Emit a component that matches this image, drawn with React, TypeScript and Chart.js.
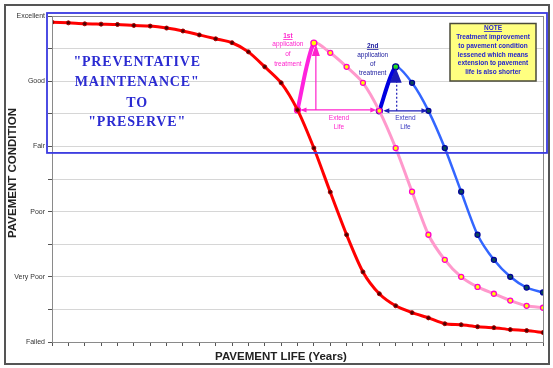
import React, { useEffect, useRef } from 'react';
import { Chart, registerables } from 'chart.js';

Chart.register(...registerables);

// Pavement life in years (x axis ticks)
const years = [0, 1, 2, 3, 4, 5, 6, 7, 8, 9, 10, 11, 12, 13, 14, 15, 16, 17, 18, 19, 20, 21, 22, 23, 24, 25, 26, 27, 28, 29, 30];

// Condition scale: value -> label (0 = Failed ... 100 = Excellent)
const conditionTickValues = [0, 20, 40, 60, 80, 100];
const conditionTickLabels = ['Failed', 'Very Poor', 'Poor', 'Fair', 'Good', 'Excellent'];

// No treatment (red), one value per year from 0
const noTreatment = [98.1, 97.9, 97.6, 97.5, 97.4, 97.1, 96.9, 96.3, 95.4, 94.2, 93.0, 91.8, 89.0, 84.4, 79.5, 71.2, 59.5, 46.0, 32.9, 21.5, 14.8, 11.1, 9.0, 7.4, 5.6, 5.3, 4.7, 4.4, 3.8, 3.5, 2.9];

// After 1st application of treatment (pink), starts at year 15
const firstTreatmentStart = 15;
const firstTreatment = [71.2, 91.7, 88.7, 84.4, 79.5, 70.9, 59.5, 46.1, 32.9, 25.2, 20.0, 16.9, 14.8, 12.7, 11.1, 10.5];

// After 2nd application of treatment (blue), starts at year 20
const secondTreatmentStart = 20;
const secondTreatment = [70.9, 84.4, 79.5, 70.9, 59.5, 46.1, 32.9, 25.2, 20.0, 16.7, 15.2];

const bannerLines = ['"PREVENTATIVE', 'MAINTENANCE"', 'TO', '"PRESERVE"'];
const noteLines = ['Treatment improvement', 'to pavement condition', 'lessened which means', 'extension to pavement', 'life is also shorter'];

function toPoints(values: number[], start: number) {
  return values.map((v, i) => ({ x: years[start + i], y: v }));
}

function arrowHead(ctx: CanvasRenderingContext2D, x: number, y: number, angle: number, len: number, half: number) {
  ctx.save();
  ctx.translate(x, y);
  ctx.rotate(angle);
  ctx.beginPath();
  ctx.moveTo(0, 0);
  ctx.lineTo(-len, -half);
  ctx.lineTo(-len, half);
  ctx.closePath();
  ctx.fill();
  ctx.restore();
}

const decorPlugin = {
  id: 'decor',
  beforeDraw(chart: any) {
    const ctx = chart.ctx as CanvasRenderingContext2D;
    ctx.save();
    ctx.fillStyle = '#ffffff';
    ctx.fillRect(0, 0, chart.width, chart.height);
    ctx.restore();
  },
  afterDatasetsDraw(chart: any) {
    const ctx = chart.ctx as CanvasRenderingContext2D;
    const xs = chart.scales.x;
    const ys = chart.scales.y;
    const ca = chart.chartArea;
    const X = (v: number) => xs.getPixelForValue(v);
    const Y = (v: number) => ys.getPixelForValue(v);
    ctx.save();

    // plot area border
    ctx.strokeStyle = '#8a8a8a';
    ctx.lineWidth = 1;
    ctx.strokeRect(ca.left + 0.5, ca.top + 0.5, ca.right - ca.left, ca.bottom - ca.top);

    // blue highlight rectangle
    ctx.strokeStyle = '#3a3ae0';
    ctx.lineWidth = 1.8;
    ctx.strokeRect(ca.left - 5, ca.top - 3, ca.right - ca.left + 9, Y(58) - ca.top + 3);

    // banner text
    ctx.fillStyle = '#2b2bd2';
    ctx.font = 'bold 14px "Liberation Serif", "DejaVu Serif", serif';
    ctx.textAlign = 'center';
    ctx.textBaseline = 'middle';
    (ctx as any).letterSpacing = '0.8px';
    const bx = X(5.2);
    const bys = [62, 82, 103, 122];
    bannerLines.forEach((t, i) => ctx.fillText(t, bx, bys[i]));
    (ctx as any).letterSpacing = '0px';

    // ---- first treatment annotation (magenta)
    const p0x = X(years[firstTreatmentStart]);
    const p0y = Y(firstTreatment[0]);
    const pkx = X(years[firstTreatmentStart + 1]);
    const pky = Y(firstTreatment[1]);
    const magenta = '#ff22cc';
    ctx.strokeStyle = magenta;
    ctx.fillStyle = magenta;
    ctx.lineWidth = 1.2;
    // vertical arrow
    ctx.beginPath();
    ctx.moveTo(pkx + 2, p0y);
    ctx.lineTo(pkx + 2, pky + 10);
    ctx.stroke();
    arrowHead(ctx, pkx + 2, pky + 1, -Math.PI / 2, 12, 4);
    // horizontal double arrow
    const h1x = X(years[secondTreatmentStart]) - 3;
    ctx.beginPath();
    ctx.moveTo(p0x + 4, p0y);
    ctx.lineTo(h1x - 4, p0y);
    ctx.stroke();
    arrowHead(ctx, p0x + 3, p0y, Math.PI, 6, 2.5);
    arrowHead(ctx, h1x, p0y, 0, 6, 2.5);
    ctx.font = '6.5px Arial, "Liberation Sans", sans-serif';
    ctx.textAlign = 'center';
    ctx.textBaseline = 'middle';
    const ex1 = (p0x + h1x) / 2 + 2;
    ctx.fillText('Extend', ex1, p0y + 8);
    ctx.fillText('Life', ex1, p0y + 17);
    // label
    const l1x = pkx - 26;
    ctx.font = 'bold 6.5px Arial, "Liberation Sans", sans-serif';
    ctx.fillText('1st', l1x, 36);
    let w = ctx.measureText('1st').width;
    ctx.fillRect(l1x - w / 2, 39, w, 0.8);
    ctx.font = '6.5px Arial, "Liberation Sans", sans-serif';
    ctx.fillText('application', l1x, 44.5);
    ctx.fillText('of', l1x, 54.5);
    ctx.fillText('treatment', l1x, 64);

    // ---- second treatment annotation (blue)
    const q0x = X(years[secondTreatmentStart]);
    const q0y = Y(secondTreatment[0]);
    const qkx = X(years[secondTreatmentStart + 1]);
    const qky = Y(secondTreatment[1]);
    const navy = '#1c1cb8';
    ctx.strokeStyle = navy;
    ctx.fillStyle = navy;
    ctx.lineWidth = 1.2;
    ctx.setLineDash([2, 2]);
    ctx.beginPath();
    ctx.moveTo(qkx + 1, q0y);
    ctx.lineTo(qkx + 1, qky + 12);
    ctx.stroke();
    ctx.setLineDash([]);
    arrowHead(ctx, qkx, qky + 1, -Math.PI / 2, 15, 6);
    const h2x = X(years[secondTreatmentStart + 3]) - 1;
    ctx.beginPath();
    ctx.moveTo(q0x + 6, q0y);
    ctx.lineTo(h2x - 4, q0y);
    ctx.stroke();
    arrowHead(ctx, q0x + 4, q0y, Math.PI, 6, 2.5);
    arrowHead(ctx, h2x, q0y, 0, 6, 2.5);
    ctx.fillStyle = '#3535c0';
    ctx.font = '6.5px Arial, "Liberation Sans", sans-serif';
    const ex2 = (q0x + h2x) / 2 + 2;
    ctx.fillText('Extend', ex2, q0y + 7);
    ctx.fillText('Life', ex2, q0y + 16);
    const l2x = qkx - 23;
    ctx.fillStyle = '#2020a0';
    ctx.font = 'bold 6.5px Arial, "Liberation Sans", sans-serif';
    ctx.fillText('2nd', l2x, 46);
    w = ctx.measureText('2nd').width;
    ctx.fillRect(l2x - w / 2, 49, w, 0.8);
    ctx.font = '6.5px Arial, "Liberation Sans", sans-serif';
    ctx.fillText('application', l2x, 55.5);
    ctx.fillText('of', l2x, 64.5);
    ctx.fillText('treatment', l2x, 73.5);

    // ---- note box
    ctx.fillStyle = '#ffff80';
    ctx.fillRect(450, 23.5, 86, 57.5);
    ctx.strokeStyle = '#4a4a3a';
    ctx.lineWidth = 1.5;
    ctx.strokeRect(450, 23.5, 86, 57.5);
    ctx.fillStyle = '#2424cc';
    ctx.font = 'bold 6.5px Arial, "Liberation Sans", sans-serif';
    ctx.textAlign = 'center';
    ctx.fillText('NOTE', 493, 28);
    w = ctx.measureText('NOTE').width;
    ctx.fillRect(493 - w / 2, 31, w, 0.8);
    const nys = [36.8, 45.8, 54.8, 63.6, 72.4];
    noteLines.forEach((t, i) => ctx.fillText(t, 493, nys[i]));

    ctx.restore();
  },
  afterDraw(chart: any) {
    const ctx = chart.ctx as CanvasRenderingContext2D;
    ctx.save();
    // axis titles
    ctx.fillStyle = '#222222';
    ctx.font = 'bold 11.5px Arial, "Liberation Sans", sans-serif';
    ctx.textAlign = 'center';
    ctx.textBaseline = 'middle';
    ctx.fillText('PAVEMENT LIFE (Years)', 281, 357);
    ctx.translate(13, 173);
    ctx.rotate(-Math.PI / 2);
    ctx.fillText('PAVEMENT CONDITION', 0, 0);
    ctx.restore();
    // outer frame
    ctx.save();
    ctx.strokeStyle = '#555555';
    ctx.lineWidth = 2;
    ctx.strokeRect(5, 5, 544, 359);
    ctx.restore();
  },
};

export default function App() {
  const ref = useRef<HTMLCanvasElement | null>(null);
  useEffect(() => {
    document.body.style.margin = '0';
    if (!ref.current) return;
    const chart = new Chart(ref.current, {
      type: 'line',
      data: {
        datasets: [
          {
            label: 'No treatment',
            data: toPoints(noTreatment, 0),
            borderColor: '#ff0000',
            borderWidth: 3,
            tension: 0.25,
            pointRadius: 2,
            pointBorderWidth: 1,
            pointBackgroundColor: '#4a0000',
            pointBorderColor: '#aa0000',
            order: 1,
          },
          {
            label: '1st application',
            data: toPoints(firstTreatment, firstTreatmentStart),
            borderColor: '#ff99cc',
            borderWidth: 3,
            tension: 0.25,
            segment: {
              borderColor: (c: any) => (c.p0DataIndex === 0 ? '#ff22dd' : '#ff99cc'),
              borderWidth: (c: any) => (c.p0DataIndex === 0 ? 4 : 3),
            },
            pointRadius: (c: any) => (c.dataIndex < 2 ? 3 : 2.5),
            pointBorderWidth: 1.3,
            pointBackgroundColor: '#ffff00',
            pointBorderColor: '#ff00cc',
            order: 2,
          },
          {
            label: '2nd application',
            data: toPoints(secondTreatment, secondTreatmentStart),
            borderColor: '#3366ff',
            borderWidth: 2.5,
            tension: 0.25,
            segment: {
              borderColor: (c: any) => (c.p0DataIndex === 0 ? '#0000e0' : '#3366ff'),
              borderWidth: (c: any) => (c.p0DataIndex === 0 ? 4 : 2.5),
            },
            pointRadius: (c: any) => (c.dataIndex < 2 ? 3 : 2.5),
            pointBorderWidth: 1.3,
            pointBackgroundColor: (c: any) => (c.dataIndex < 2 ? '#22dd22' : '#0a4a55'),
            pointBorderColor: '#000099',
            order: 3,
          },
        ],
      },
      options: {
        animation: false,
        responsive: false,
        events: [],
        layout: { padding: { top: 16, right: 10, left: 0, bottom: 0 } },
        plugins: {
          legend: { display: false },
          tooltip: { enabled: false },
          title: { display: false },
        },
        scales: {
          x: {
            type: 'linear',
            min: years[0],
            max: years[years.length - 1],
            ticks: {
              stepSize: 1,
              autoSkip: false,
              maxTicksLimit: 100,
              callback: () => '',
            },
            grid: { drawOnChartArea: false, drawTicks: true, tickLength: 4, color: '#555555' },
            border: { color: '#555555', width: 1 },
            afterFit: (s: any) => {
              s.height = 26;
            },
          },
          y: {
            type: 'linear',
            min: 0,
            max: 100,
            ticks: {
              stepSize: 10,
              autoSkip: false,
              padding: 3,
              color: '#333333',
              font: { size: 7, family: 'Arial, "Liberation Sans", sans-serif' },
              callback: (v: any) => {
                const i = conditionTickValues.indexOf(Number(v));
                return i >= 0 ? conditionTickLabels[i] : '';
              },
            },
            grid: { color: '#d6d6d6', tickColor: '#555555', tickLength: 4, drawTicks: true },
            border: { color: '#555555', width: 1 },
            afterFit: (s: any) => {
              s.width = 52;
            },
          },
        },
      },
      plugins: [decorPlugin],
    } as any);
    return () => chart.destroy();
  }, []);
  return <canvas ref={ref} width={553} height={368} style={{ display: 'block' }} />;
}
